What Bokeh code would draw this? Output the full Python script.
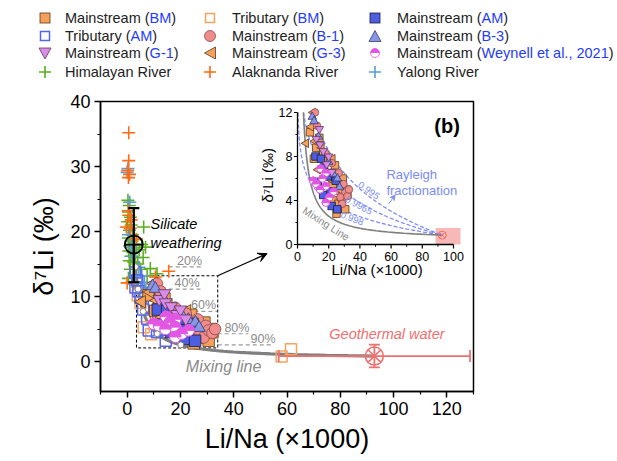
import math
from bokeh.plotting import figure
from bokeh.layouts import column
from bokeh.models import Div, Range1d, FixedTicker, Label, Arrow, VeeHead
from bokeh.core.properties import value
from bokeh.embed import file_html
from bokeh.resources import INLINE

FONT = "Liberation Sans"

# ---------------- data: Li/Na (x1000), d7Li (permil) ----------------
bm_main_x = [8.0, 12.0, 14.0, 16.5, 10.5, 20.5, 22.5, 24.0, 19.0, 23.0, 25.0, 26.2, 27.5, 28.5, 29.0, 30.6, 31.5, 32.0]
bm_main_y = [10.2, 8.8, 9.7, 8.2, 7.8, 6.5, 5.5, 7.2, 4.2, 4.0, 2.8, 3.7, 5.5, 4.2, 6.0, 3.2, 5.0, 4.5]
bm_trib_x = [4.0, 5.0, 6.2, 9.0, 13.0, 58.0, 61.5]
bm_trib_y = [10.2, 9.0, 5.3, 4.2, 6.0, 0.8, 1.9]
am_main_x = [11.5, 13.0, 15.0, 16.5, 17.0, 19.5, 21.2, 21.9, 24.5, 25.5]
am_main_y = [8.0, 5.7, 7.8, 4.5, 7.0, 6.2, 4.8, 3.5, 5.8, 3.2]
am_trib_x = [3.1, 3.8, 3.1, 4.2, 5.0, 10.0, 6.0, 7.5, 8.1, 11.2, 12.5, 14.5]
am_trib_y = [13.7, 12.5, 11.4, 10.8, 9.8, 9.4, 8.0, 6.6, 4.8, 4.5, 5.0, 3.2]
b1_x = [11.2, 12.5, 18.0, 22.0, 26.5, 27.5, 28.7, 29.5, 30.6, 32.0, 33.0]
b1_y = [12.0, 10.8, 8.3, 7.4, 6.5, 4.3, 3.7, 5.5, 4.8, 4.4, 5.0]
b3_x = [9.5, 10.6, 13.5, 20.0, 23.0, 25.6, 27.0]
b3_y = [11.6, 11.2, 9.8, 7.5, 6.4, 6.0, 5.2]
g1_x = [12.0, 14.0, 14.4, 16.5, 18.7, 20.0, 22.0]
g1_y = [9.6, 10.5, 9.1, 8.5, 7.3, 8.0, 6.6]
g3_x = [5.5, 8.7, 10.0, 11.2, 13.1, 15.5, 17.0, 20.0, 22.5, 25.0, 28.0]
g3_y = [9.2, 10.7, 12.0, 9.4, 6.8, 8.8, 7.6, 6.0, 7.8, 4.8, 4.9]
wey_x = [10.0, 12.0, 14.4, 14.7, 16.0, 18.1, 18.1, 18.1, 20.5, 23.1]
wey_y = [5.8, 5.5, 5.0, 6.9, 6.0, 6.5, 5.3, 3.8, 4.3, 4.8]
him_x = [0.3, 0.8, 0.5, 1.2, 0.2, 1.5, 0.9, 2.0, 0.4, 1.8, 2.8, 1.0, 3.5, 0.6, 2.2, 4.5, 1.4, 3.0,
         5.5, 6.2, 6.9, 0.8, 2.5, 4.0, 8.7, 11.2, 10.6, 7.5, 1.2, 0.5, 1.9, 6.0, 5.0, 9.5]
him_y = [24.8, 24.0, 23.0, 22.2, 21.5, 21.0, 20.2, 19.5, 19.0, 18.5, 18.8, 17.8, 17.5, 17.0, 16.8, 17.2, 16.2, 16.0,
         18.0, 20.7, 17.6, 15.5, 15.3, 15.0, 14.3, 13.5, 12.2, 13.2, 14.2, 12.8, 12.3, 16.0, 14.2, 11.4]
alak_x = [0.6, 0.6, 0.2, 0.9, 0.5, 0.6, -0.3, 1.2, 0.4, 1.5, 0.0, 2.5, 10.6, 15.6, 11.9, 8.7, 3.5, 12.5]
alak_y = [35.2, 30.9, 29.4, 28.8, 28.3, 22.5, 20.7, 20.5, 23.2, 21.8, 12.1, 12.2, 13.0, 13.9, 11.4, 7.6, 18.8, 10.5]
yal_x = [0.0, 0.3, 1.0, 4.4, 5.5, 3.0, 2.3, 6.5, 7.0, 5.8, 0.5, 1.5, 2.0]
yal_y = [29.1, 29.7, 24.5, 14.5, 13.2, 12.0, 13.0, 12.2, 11.0, 10.5, 19.5, 17.5, 16.2]

# end members
sil_x, sil_y, sil_lo, sil_hi = 2.5, 18.0, 12.2, 23.6
geo_x, geo_y = 92.8, 0.85
geo_xlo, geo_xhi = 56.9, 128.7
geo_ylo, geo_yhi = -0.9, 2.6
mix_pct = [20, 40, 60, 80, 90]
rayleigh_alpha = [0.995, 0.9965, 0.998]
rayleigh_labels = ["0.995", "0.9965", "0.998"]

x_ticks = [0, 20, 40, 60, 80, 100, 120]
y_ticks = [0, 10, 20, 30, 40]
inset_x_ticks = [0, 20, 40, 60, 80, 100]
inset_y_ticks = [0, 4, 8, 12]

legend_labels = ["Mainstream (BM)", "Tributary (BM)", "Mainstream (AM)",
                 "Tributary (AM)", "Mainstream (B-1)", "Mainstream (B-3)",
                 "Mainstream (G-1)", "Mainstream (G-3)", "Mainstream (Weynell et al., 2021)",
                 "Himalayan River", "Alaknanda River", "Yalong River"]

# colours
C_OR = "#F5A15B"; C_OR_E = "#5a3a1a"
C_BL = "#4D5FE0"; C_BL_E = "#1a1a40"
C_TBL = "#5566EE"; C_TOR = "#F4A460"
C_SAL = "#F08C8C"; C_SAL_E = "#8a4a4a"
C_B3 = "#8896E6"; C_B3_E = "#3a3a70"
C_G1 = "#DB8BEA"; C_G1_E = "#5a3a5a"
C_MAG = "#E356E3"
C_HIM = "#5CAD20"; C_ALA = "#FF6A13"; C_YAL = "#5B9BD5"
C_GEO = "#F07070"; C_RAY = "#7B8CF5"; C_GRAY = "#8a8a8a"
LBLUE = "#1f3cff"

# ---------------- model curves ----------------
def mix_point(g):
    x = 1.0 / ((1 - g) / sil_x + g / geo_x)
    y = (1 - g) * sil_y + g * geo_y
    return x, y

mix_g = [i / 300 for i in range(301)]
mix_x = [mix_point(g)[0] for g in mix_g]
mix_y = [mix_point(g)[1] for g in mix_g]
pct_x = [mix_point(p / 100)[0] for p in mix_pct]
pct_y = [mix_point(p / 100)[1] for p in mix_pct]

# ---------------- main figure ----------------
p = figure(frame_width=373, frame_height=290, x_range=(-10, 130), y_range=(-4.6, 40),
           min_border_left=100, min_border_right=15, min_border_top=8, min_border_bottom=62,
           output_backend="svg", toolbar_location=None, background_fill_color="white",
           border_fill_color="white")
p.margin = 0
p.xgrid.visible = False
p.ygrid.visible = False
p.outline_line_color = "black"
p.outline_line_width = 1.5
p.xaxis.ticker = FixedTicker(ticks=x_ticks, minor_ticks=[-10, 10, 30, 50, 70, 90, 110, 130])
p.yaxis.ticker = FixedTicker(ticks=y_ticks, minor_ticks=[5, 15, 25, 35])
for ax in (p.xaxis, p.yaxis):
    ax.axis_line_width = 1.5
    ax.major_tick_line_width = 1.5
    ax.minor_tick_line_width = 1.2
    ax.major_tick_out = 6
    ax.major_tick_in = 0
    ax.minor_tick_out = 3
    ax.minor_tick_in = 0
    ax.major_label_text_font = FONT
    ax.major_label_text_font_size = "18px"
    ax.major_label_text_color = "black"
    ax.axis_label_text_font = FONT
    ax.axis_label_text_font_size = "27px"
    ax.axis_label_text_font_style = "normal"
    ax.axis_label_text_color = "black"
p.xaxis.axis_label = "Li/Na (×1000)"
p.yaxis.axis_label = "δ⁷Li (‰)"
p.xaxis.axis_label_standoff = 6
p.yaxis.axis_label_standoff = 8
p.xaxis.major_label_standoff = 4
p.yaxis.major_label_standoff = 4


def txt(x, y, s, size, color="black", style="normal", align="center", baseline="middle",
        angle=0.0, inset=False):
    kw = dict(x_range_name="ix", y_range_name="iy") if inset else {}
    p.text(x=[x], y=[y], text=[s], text_font=value(FONT), text_font_size=size,
           text_color=color, text_font_style=style, text_align=align,
           text_baseline=baseline, angle=angle, **kw)


# zoom rectangle and arrow
rect_l, rect_r, rect_b, rect_t = 3.5, 34.0, 2.1, 13.2
p.quad(left=[rect_l], right=[rect_r], bottom=[rect_b], top=[rect_t], fill_alpha=0,
       line_color="black", line_dash="3 2", line_width=1)
p.add_layout(Arrow(end=VeeHead(size=9, line_color="black", fill_color="black", line_width=1),
                   x_start=rect_r, y_start=rect_t, x_end=52.5, y_end=16.6,
                   line_color="black", line_width=1.3))

# mixing line
p.line(mix_x, mix_y, line_color="#7f7f7f", line_width=3.2)

# percentage markers
pct_line_x0 = [15.6, 15.6, 20.0, 34.0, 34.0]
pct_line_x1 = [28.0, 27.5, 33.7, 45.5, 55.0]
pct_text_x = [23.4, 22.5, 28.7, 41.2, 51.0]
p.segment(x0=pct_line_x0, y0=pct_y, x1=pct_line_x1, y1=pct_y, line_color="#9a9a9a",
          line_dash="4 3", line_width=1.2)
p.text(x=pct_text_x, y=[v + 0.95 for v in pct_y], text=[f"{v}%" for v in mix_pct],
       text_font=value(FONT), text_font_size="12.5px", text_color=C_GRAY,
       text_align="center", text_baseline="middle")

# river data (plus markers)
p.scatter(him_x, him_y, marker="cross", size=13, line_color=C_HIM, line_width=1.6)
p.scatter(yal_x, yal_y, marker="cross", size=13, line_color=C_YAL, line_width=1.6)
p.scatter(alak_x, alak_y, marker="cross", size=13, line_color=C_ALA, line_width=1.6)

# tributaries
p.scatter(bm_trib_x, bm_trib_y, marker="square", size=11, fill_alpha=0, line_color=C_TOR, line_width=1.5)
p.scatter(am_trib_x, am_trib_y, marker="square", size=11, fill_alpha=0, line_color=C_TBL, line_width=1.5)


def draw_main(xr=None, yr=None, s=11.5, filt=None):
    kw = dict(x_range_name=xr, y_range_name=yr) if xr else {}

    def f(xs, ys):
        if filt is None:
            return xs, ys
        pts = [(a, b) for a, b in zip(xs, ys) if filt(a, b)]
        return [a for a, _ in pts], [b for _, b in pts]

    x, y = f(bm_main_x, bm_main_y)
    p.scatter(x, y, marker="square", size=s, fill_color=C_OR, line_color=C_OR_E, line_width=0.8, **kw)
    x, y = f(g3_x, g3_y)
    p.scatter(x, y, marker="triangle", angle=math.pi / 2, size=s + 1, fill_color=C_OR,
              line_color=C_OR_E, line_width=0.8, **kw)
    x, y = f(b1_x, b1_y)
    p.scatter(x, y, marker="circle", size=s, fill_color=C_SAL, line_color=C_SAL_E, line_width=0.8, **kw)
    x, y = f(am_main_x, am_main_y)
    p.scatter(x, y, marker="square", size=s, fill_color=C_BL, line_color=C_BL_E, line_width=0.8, **kw)
    x, y = f(b3_x, b3_y)
    p.scatter(x, y, marker="triangle", size=s + 1, fill_color=C_B3, line_color=C_B3_E, line_width=0.8, **kw)
    x, y = f(g1_x, g1_y)
    p.scatter(x, y, marker="inverted_triangle", size=s + 1, fill_color=C_G1, line_color=C_G1_E,
              line_width=0.8, **kw)
    x, y = f(wey_x, wey_y)
    p.scatter(x, y, marker="circle", size=s, fill_color="white", line_color=C_MAG, line_width=1, **kw)
    p.wedge(x=x, y=y, radius=s / 2, radius_units="screen", start_angle=0, end_angle=math.pi,
            fill_color=C_MAG, line_color=C_MAG, **kw)


draw_main()

# white dots at mixing percentages
p.scatter(pct_x, pct_y, marker="circle", size=6, fill_color="white", line_color="#7f7f7f", line_width=1)

# silicate weathering end member
p.segment(x0=[sil_x], y0=[sil_lo], x1=[sil_x], y1=[sil_hi], line_color="black", line_width=2.2)
p.scatter([sil_x, sil_x], [sil_lo, sil_hi], marker="dash", size=11, line_color="black", line_width=2.2)
p.scatter([sil_x], [sil_y], marker="circle_cross", size=18, fill_alpha=0, line_color="black", line_width=1.8)
txt(8.8, 21.2, "Silicate", "14.5px", style="italic", align="left")
txt(8.8, 18.2, "weathering", "14.5px", style="italic", align="left")

# geothermal end member
p.segment(x0=[geo_xlo], y0=[geo_y], x1=[geo_xhi], y1=[geo_y], line_color=C_GEO, line_width=1.8)
p.segment(x0=[geo_x], y0=[geo_ylo], x1=[geo_x], y1=[geo_yhi], line_color=C_GEO, line_width=1.8)
p.scatter([geo_xlo, geo_xhi], [geo_y, geo_y], marker="dash", angle=math.pi / 2, size=12,
          line_color=C_GEO, line_width=1.8)
p.scatter([geo_x, geo_x], [geo_ylo, geo_yhi], marker="dash", size=11, line_color=C_GEO, line_width=1.8)
p.scatter([geo_x], [geo_y], marker="circle_x", size=18, fill_alpha=0, line_color=C_GEO, line_width=1.6)
txt(97.5, 4.3, "Geothermal water", "14.5px", color=C_GEO, style="italic")
txt(36.2, -0.8, "Mixing line", "16px", color=C_GRAY, style="italic")

p.add_layout(Label(x=-37, y=38.3, text="(a)", text_font=FONT, text_font_size="28px",
                   text_font_style="bold", text_align="center", text_baseline="middle"))

# ---------------- inset (b) via extra ranges ----------------
p.extra_x_ranges = {"ix": Range1d(-126.28, 112.82)}
p.extra_y_ranges = {"iy": Range1d(-13.364, 13.0)}
IK = dict(x_range_name="ix", y_range_name="iy")

# pink geothermal box
p.quad(left=[88.5], right=[104.5], bottom=[0.0], top=[1.5], fill_color="#F4A0A0",
       fill_alpha=0.75, line_alpha=0, **IK)

# Rayleigh curves (from geothermal end member)
for a in rayleigh_alpha:
    eps = 1000 * (a - 1)
    x_clip = geo_x * math.exp((12 - geo_y) / eps)
    n = 200
    xs = [x_clip * (geo_x / x_clip) ** (i / n) for i in range(n + 1)]
    ys = [geo_y + eps * math.log(v / geo_x) for v in xs]
    p.line(xs, ys, line_color=C_RAY, line_dash="4 2", line_width=1.3, **IK)

# inset mixing line
imx = [a for a, b in zip(mix_x, mix_y) if b <= 12]
imy = [b for a, b in zip(mix_x, mix_y) if b <= 12]
p.line(imx, imy, line_color="#7f7f7f", line_width=1.6, **IK)

draw_main("ix", "iy", s=7.5, filt=lambda a, b: 0 <= a <= 100 and 0 <= b <= 12)

p.scatter([geo_x], [geo_y], marker="circle_x", size=8, fill_alpha=0, line_color=C_GEO, line_width=1, **IK)
p.add_layout(Arrow(end=VeeHead(size=5, line_color=C_RAY, fill_color=C_RAY, line_width=1),
                   x_start=58.5, y_start=3.7, x_end=62.5, y_end=4.5,
                   line_color=C_RAY, line_width=1, x_range_name="ix", y_range_name="iy"))

# inset axes
p.segment(x0=[0, 0], y0=[0, 0], x1=[100, 0], y1=[0, 12], line_color="black", line_width=1.3, **IK)
p.segment(x0=inset_x_ticks, y0=[0] * 6, x1=inset_x_ticks, y1=[-0.36] * 6, line_color="black", line_width=1.2, **IK)
p.segment(x0=[10, 30, 50, 70, 90], y0=[0] * 5, x1=[10, 30, 50, 70, 90], y1=[-0.2] * 5,
          line_color="black", line_width=1, **IK)
p.segment(x0=[0] * 4, y0=inset_y_ticks, x1=[-2.3] * 4, y1=inset_y_ticks, line_color="black", line_width=1.2, **IK)
p.segment(x0=[0] * 3, y0=[2, 6, 10], x1=[-1.3] * 3, y1=[2, 6, 10], line_color="black", line_width=1, **IK)
p.text(x=inset_x_ticks, y=[-1.05] * 6, text=[str(v) for v in inset_x_ticks], text_font=value(FONT),
       text_font_size="12.5px", text_align="center", text_baseline="middle", **IK)
p.text(x=[-3.2] * 4, y=inset_y_ticks, text=[str(v) for v in inset_y_ticks], text_font=value(FONT),
       text_font_size="12.5px", text_align="right", text_baseline="middle", **IK)
txt(51.0, -2.25, "Li/Na (×1000)", "15px", inset=True)
txt(-19.2, 6.3, "δ⁷Li (‰)", "15px", angle=math.pi / 2, inset=True)
txt(95.9, 10.8, "(b)", "20px", style="bold", inset=True)
txt(57.0, 6.4, "Rayleigh", "13px", color=C_RAY, align="left", inset=True)
txt(57.0, 4.95, "fractionation", "13px", color=C_RAY, align="left", inset=True)
p.text(x=[45.7, 39.3, 35.0], y=[4.9, 3.55, 2.35], text=rayleigh_labels, text_font=value(FONT),
       text_font_size="9.5px", text_color=C_RAY, text_align="center", text_baseline="middle",
       angle=[-0.62, -0.5, -0.36], **IK)
txt(18.5, 1.9, "Mixing Line", "10.5px", color=C_GRAY, angle=-0.57, inset=True)

# ---------------- legend (HTML) ----------------
def svg_icon(kind):
    head = '<svg width="14" height="14" viewBox="0 0 14 14" style="display:block">'
    body = {
        "bm": f'<rect x="2" y="2" width="10" height="10" fill="{C_OR}" stroke="{C_OR_E}" stroke-width="0.8"/>',
        "tbm": f'<rect x="2.5" y="2.5" width="9" height="9" fill="white" stroke="{C_TOR}" stroke-width="1.5"/>',
        "am": f'<rect x="2" y="2" width="10" height="10" fill="{C_BL}" stroke="{C_BL_E}" stroke-width="0.8"/>',
        "tam": f'<rect x="2.5" y="2.5" width="9" height="9" fill="white" stroke="{C_TBL}" stroke-width="1.5"/>',
        "b1": f'<circle cx="7" cy="7" r="5.5" fill="{C_SAL}" stroke="{C_SAL_E}" stroke-width="0.8"/>',
        "b3": f'<polygon points="7,1.5 13,12.5 1,12.5" fill="{C_B3}" stroke="{C_B3_E}" stroke-width="0.8"/>',
        "g1": f'<polygon points="1,2 13,2 7,13" fill="{C_G1}" stroke="{C_G1_E}" stroke-width="0.8"/>',
        "g3": f'<polygon points="1.5,7 12.5,1 12.5,13" fill="{C_OR}" stroke="{C_OR_E}" stroke-width="0.8"/>',
        "wey": f'<circle cx="7" cy="7" r="4.5" fill="white" stroke="{C_MAG}" stroke-width="0.8"/>'
               f'<path d="M2.5,7 A4.5,4.5 0 0 1 11.5,7 Z" fill="{C_MAG}"/>',
        "him": f'<path d="M7,1 V13 M1,7 H13" stroke="{C_HIM}" stroke-width="1.6"/>',
        "ala": f'<path d="M7,1 V13 M1,7 H13" stroke="{C_ALA}" stroke-width="1.6"/>',
        "yal": f'<path d="M7,1 V13 M1,7 H13" stroke="{C_YAL}" stroke-width="1.6"/>',
    }[kind]
    return head + body + "</svg>"


legend_icons = ["bm", "tbm", "am", "tam", "b1", "b3", "g1", "g3", "wey", "him", "ala", "yal"]
col_marker_x = [45, 210, 375]
col_text_x = [65, 232, 397]
row_y = [18.3, 35.5, 53.3, 71.7]

items = []
for i, (lab, ic) in enumerate(zip(legend_labels, legend_icons)):
    r, c = divmod(i, 3)
    if "(" in lab:
        pre, rest = lab.split("(", 1)
        inner = rest[:-1]
        html_lab = f'{pre}(<span style="color:{LBLUE}">{inner}</span>)'
    else:
        html_lab = lab
    items.append(f'<div style="position:absolute;left:{col_marker_x[c] - 7}px;top:{row_y[r] - 7}px;">'
                 f'{svg_icon(ic)}</div>')
    items.append(f'<div style="position:absolute;left:{col_text_x[c]}px;top:{row_y[r] - 9}px;'
                 f'line-height:18px;white-space:nowrap;">{html_lab}</div>')

legend_html = (f'<div style="position:relative;width:608px;height:93px;font-family:\'{FONT}\',Arial,sans-serif;'
               f'font-size:14.5px;color:#222;">' + "".join(items) + "</div>")
leg = Div(text=legend_html, width=608, height=93, margin=0)

layout = column(leg, p, spacing=0)
open("out.html", "w").write(file_html(layout, INLINE))
